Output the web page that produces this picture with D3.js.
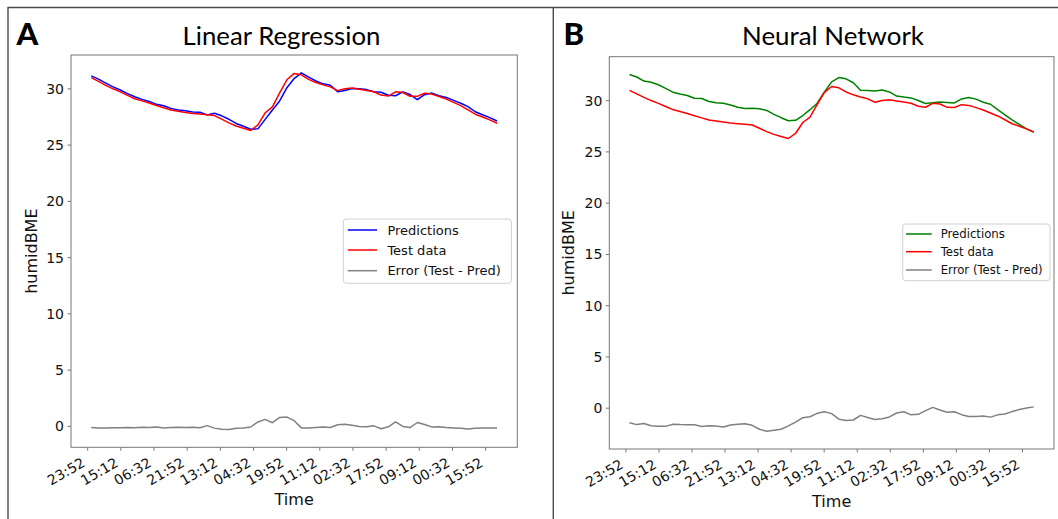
<!DOCTYPE html>
<html><head><meta charset="utf-8">
<script src="https://cdn.jsdelivr.net/npm/d3@7"></script>
<style>body{margin:0;background:#fff} svg{display:block}</style>
</head><body><svg id="c" width="1058" height="519"></svg>
<script>
// ---- data ----
const startMinute = 114;      // first sample, minutes after the first tick (23:52)
const stepMinutes = 201;      // sampling interval in minutes
const tickLabels = ["23:52","15:12","06:32","21:52","13:12","04:32","19:52","11:12","02:32","17:52","09:12","00:32","15:52"];
const tickMinutes = [0,920,1840,2760,3680,4600,5520,6440,7360,8280,9200,10120,11040];
const yTicks = [0,5,10,15,20,25,30];

const testData = [30.96,30.62,30.27,29.96,29.69,29.38,29.08,28.89,28.70,28.48,
  28.27,28.07,27.96,27.86,27.77,27.71,27.66,27.58,27.26,26.93,
  26.66,26.45,26.26,26.75,27.82,28.35,29.60,30.76,31.33,31.20,
  30.80,30.52,30.31,30.13,29.80,29.96,30.04,29.92,29.81,29.70,
  29.40,29.31,29.69,29.63,29.30,29.29,29.56,29.49,29.27,29.04,
  28.75,28.46,28.09,27.70,27.46,27.20,26.90];
const predLR = [31.11,30.82,30.47,30.13,29.85,29.53,29.25,29.02,28.84,28.58,
  28.45,28.22,28.08,28.00,27.89,27.87,27.64,27.78,27.56,27.25,
  26.88,26.63,26.36,26.40,27.24,28.07,28.88,30.06,30.87,31.38,
  31.00,30.66,30.40,30.28,29.70,29.81,29.99,29.97,29.89,29.70,
  29.65,29.39,29.34,29.68,29.45,28.99,29.44,29.58,29.35,29.19,
  28.93,28.68,28.37,27.92,27.66,27.40,27.10];
const errLR = [-0.15,-0.20,-0.20,-0.17,-0.16,-0.15,-0.17,-0.13,-0.14,-0.10,
  -0.18,-0.15,-0.12,-0.14,-0.12,-0.16,0.02,-0.20,-0.30,-0.32,
  -0.22,-0.18,-0.10,0.35,0.58,0.28,0.75,0.78,0.46,-0.18,
  -0.20,-0.14,-0.09,-0.15,0.10,0.15,0.05,-0.05,-0.08,0.00,
  -0.25,-0.08,0.35,-0.05,-0.15,0.30,0.12,-0.09,-0.08,-0.15,
  -0.18,-0.22,-0.28,-0.22,-0.20,-0.20,-0.20];
const predNN = [32.50,32.26,31.86,31.75,31.50,31.15,30.78,30.60,30.46,30.18,
  30.16,29.87,29.74,29.69,29.52,29.30,29.18,29.20,29.17,29.00,
  28.62,28.29,27.99,28.03,28.50,29.07,29.70,30.80,31.78,32.20,
  32.08,31.70,30.96,30.95,30.90,31.00,30.80,30.40,30.30,30.22,
  29.97,29.67,29.75,29.81,29.78,29.73,30.12,30.25,30.10,29.80,
  29.60,29.07,28.57,28.08,27.63,27.20,26.88];
const errNN = [-1.46,-1.65,-1.55,-1.76,-1.80,-1.82,-1.62,-1.65,-1.66,-1.66,
  -1.83,-1.76,-1.78,-1.88,-1.69,-1.62,-1.56,-1.72,-2.10,-2.29,
  -2.20,-2.10,-1.77,-1.40,-0.97,-0.88,-0.55,-0.40,-0.58,-1.12,
  -1.25,-1.20,-0.75,-0.95,-1.15,-1.07,-0.90,-0.52,-0.39,-0.70,
  -0.65,-0.29,0.03,-0.22,-0.45,-0.40,-0.68,-0.85,-0.85,-0.80,
  -0.92,-0.70,-0.62,-0.38,-0.18,-0.02,0.08];
const legendLabels = ["Predictions","Test data","Error (Test - Pred)"];

// ---- drawing ----
const svg = d3.select('#c');
svg.append('rect').attr('width',1058).attr('height',519).attr('fill','#fff');
const border = '#4a4a4a';
svg.append('line').attr('x1',7.5).attr('x2',1058).attr('y1',7.5).attr('y2',7.5).attr('stroke',border).attr('stroke-width',1.4);
svg.append('line').attr('x1',8).attr('x2',8).attr('y1',7.5).attr('y2',519).attr('stroke',border).attr('stroke-width',1.4);
svg.append('line').attr('x1',553.3).attr('x2',553.3).attr('y1',7.5).attr('y2',519).attr('stroke',border).attr('stroke-width',1.4);

const times = testData.map((_, i) => startMinute + stepMinutes * i);
const tickFont = 'DejaVu Sans, sans-serif';

function fitText(sel, target) {
  const len = sel.node().getComputedTextLength();
  const fs = parseFloat(sel.attr('font-size'));
  sel.attr('font-size', (fs * target / len).toFixed(2));
}

function panel(cfg) {
  const g = svg.append('g');
  const f = cfg.frame;
  const tMin = d3.min(times), tMax = d3.max(times), tPad = (tMax - tMin) * 0.05;
  const x = d3.scaleLinear().domain([tMin - tPad, tMax + tPad]).range([f.x0, f.x1]);
  const all = cfg.pred.concat(testData, cfg.err);
  const vMin = d3.min(all), vMax = d3.max(all), vPad = (vMax - vMin) * 0.05;
  const y = d3.scaleLinear().domain([vMin - vPad, vMax + vPad]).range([f.y1, f.y0]);

  const line = d3.line().x((d, i) => x(times[i])).y(d => y(d));
  const series = [
    {v: cfg.pred, c: cfg.predColor},
    {v: testData, c: '#ff0000'},
    {v: cfg.err, c: '#808080'}
  ];
  series.forEach(s => {
    g.append('path').datum(s.v).attr('d', line).attr('fill','none')
      .attr('stroke', s.c).attr('stroke-width', 1.5).attr('stroke-linejoin','round');
  });

  const frameColor = '#777';
  // y axis
  const ya = g.append('g').attr('transform', `translate(${f.x0},0)`)
    .call(d3.axisLeft(y).tickValues(yTicks).tickSize(3.5).tickPadding(3.5));
  ya.select('.domain').remove();
  ya.selectAll('line').attr('stroke', frameColor);
  ya.selectAll('text').attr('font-family', tickFont).attr('font-size', 14).attr('fill','#111').attr('dy','0.36em');
  // x axis
  const xa = g.append('g').attr('transform', `translate(0,${f.y1})`)
    .call(d3.axisBottom(x).tickValues(tickMinutes).tickSize(3.5).tickFormat((d, i) => tickLabels[i]));
  xa.select('.domain').remove();
  xa.selectAll('line').attr('stroke', frameColor);
  xa.selectAll('text').attr('font-family', tickFont).attr('font-size', 14).attr('fill','#111')
    .attr('x', 0).attr('y', 0).attr('dy', 0).attr('text-anchor','end')
    .attr('transform', 'translate(-1.6,18.3) rotate(-30)');

  g.append('rect').attr('x', f.x0).attr('y', f.y0).attr('width', f.x1 - f.x0).attr('height', f.y1 - f.y0)
    .attr('fill','none').attr('stroke', frameColor).attr('stroke-width', 1);

  // axis labels
  g.append('text').attr('x', (f.x0 + f.x1) / 2).attr('y', cfg.xlabelY).attr('text-anchor','middle')
    .attr('font-family', tickFont).attr('font-size', 16).attr('fill','#111').text('Time');
  g.append('text').attr('transform', `translate(${cfg.ylabelX + 6.1},${(f.y0 + f.y1) / 2}) rotate(-90)`)
    .attr('text-anchor','middle').attr('font-family', tickFont).attr('font-size', 16).attr('fill','#111').text('humidBME');

  // legend
  const L = cfg.legend;
  g.append('rect').attr('x', L.x0).attr('y', L.y0).attr('width', L.x1 - L.x0).attr('height', L.y1 - L.y0)
    .attr('rx', 3).attr('fill','#fff').attr('fill-opacity', 0.8).attr('stroke','#d0d0d0').attr('stroke-width', 1);
  series.forEach((s, i) => {
    g.append('line').attr('x1', L.lx0).attr('x2', L.lx1).attr('y1', L.ys[i]).attr('y2', L.ys[i])
      .attr('stroke', s.c).attr('stroke-width', 1.5);
    g.append('text').attr('x', L.tx).attr('y', L.ys[i] + 0.36 * L.fs).attr('font-family', tickFont)
      .attr('font-size', L.fs).attr('fill','#111').text(legendLabels[i]);
  });

  // title + letter
  const t = g.append('text').attr('x', cfg.titleCx).attr('y', 45).attr('text-anchor','middle')
    .attr('font-family','Lato, sans-serif').attr('font-size', 24).attr('fill','#000').text(cfg.title);
  fitText(t, cfg.titleW);
  g.append('text').attr('x', cfg.letterX).attr('y', 45).attr('font-family','Lato, sans-serif')
    .attr('font-weight', 900).attr('font-size', 31).attr('fill','#000').text(cfg.letter);
}

panel({
  frame: {x0: 71, x1: 517.3, y0: 55, y1: 447.3},
  pred: predLR, err: errLR, predColor: '#0000ff',
  title: 'Linear Regression', titleCx: 281.5, titleW: 198, letter: 'A', letterX: 16.5,
  legend: {x0: 343.3, x1: 511.4, y0: 219, y1: 283.3, lx0: 347.8, lx1: 377, tx: 387.4, ys: [230, 250, 270.7], fs: 13},
  ylabelX: 30.5, xlabelY: 505
});
panel({
  frame: {x0: 609.3, x1: 1054, y0: 56.7, y1: 449},
  pred: predNN, err: errNN, predColor: '#008000',
  title: 'Neural Network', titleCx: 833, titleW: 182, letter: 'B', letterX: 563.5,
  legend: {x0: 902.7, x1: 1050, y0: 224, y1: 280.7, lx0: 906, lx1: 931.7, tx: 940.7, ys: [234, 251.7, 270], fs: 11.7},
  ylabelX: 568.3, xlabelY: 506.7
});
</script></body></html>
